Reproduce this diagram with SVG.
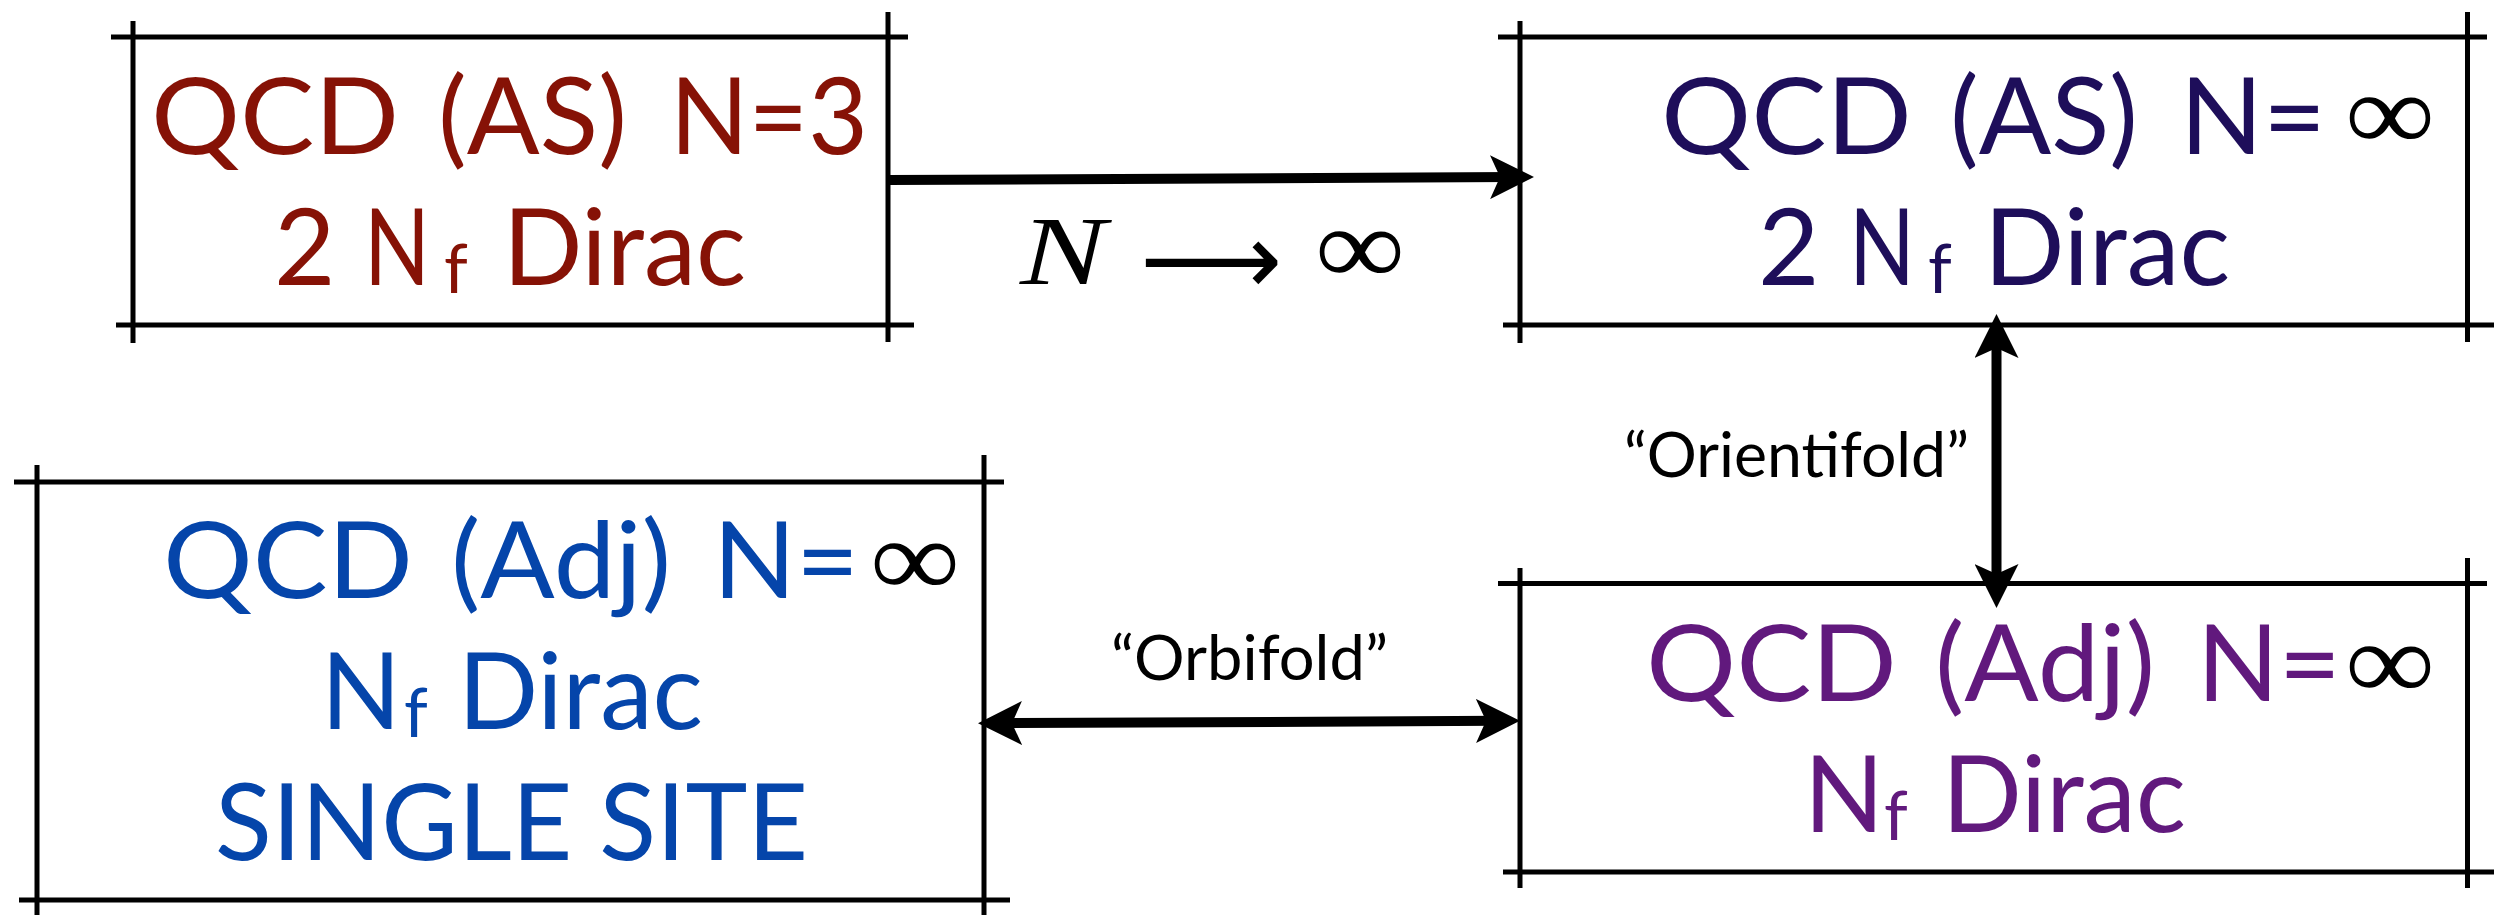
<svg xmlns="http://www.w3.org/2000/svg" width="2509" height="915" viewBox="0 0 2509 915">
<style>
.bx line{stroke:#000;stroke-width:5;fill:none}
.t{font-family:Lato,"Open Sans",sans-serif;font-size:106px}
.sub{font-size:68px}
.inf{font-family:"Liberation Serif",serif;font-size:110px;fill:#000}
.c1{fill:#861206}.c2{fill:#1E0E5A}.c3{fill:#0545AA}.c4{fill:#61197D}
.lbl{font-family:Lato,"Open Sans",sans-serif;font-size:61px;fill:#000}
.cn{stroke:#000;stroke-width:10;fill:none}
</style>
<defs>
<marker id="ah" markerUnits="userSpaceOnUse" markerWidth="44" markerHeight="44" viewBox="0 0 44 44" refX="24" refY="22" orient="auto-start-reverse">
<path d="M0,0 L44,22 L0,44 L10,22 Z" fill="#000"/>
</marker>
</defs>
<rect width="2509" height="915" fill="#fff"/>

<g id="node-qcd-as-n3" class="bx">
<line x1="111" y1="37" x2="908" y2="37"/>
<line x1="116" y1="325" x2="914" y2="325"/>
<line x1="133" y1="21" x2="133" y2="343"/>
<line x1="888" y1="12" x2="888" y2="342"/>
<text class="t c1" y="154"><tspan x="151" textLength="248" lengthAdjust="spacingAndGlyphs">QCD</tspan><tspan x="438" textLength="189" lengthAdjust="spacingAndGlyphs">(AS)</tspan><tspan x="670" textLength="198" lengthAdjust="spacingAndGlyphs">N=3</tspan></text>
<text class="t c1" y="285"><tspan x="274">2</tspan><tspan x="364" textLength="66" lengthAdjust="spacingAndGlyphs">N</tspan><tspan class="sub" x="444" dy="8">f</tspan><tspan x="503" dy="-8" textLength="243" lengthAdjust="spacingAndGlyphs">Dirac</tspan></text>
</g>

<g id="node-qcd-as-ninf" class="bx">
<line x1="1498" y1="37" x2="2487" y2="37"/>
<line x1="1503" y1="325" x2="2494" y2="325"/>
<line x1="1520" y1="21" x2="1520" y2="343"/>
<line x1="2467.5" y1="12" x2="2467.5" y2="342"/>
<text class="t c2" y="154"><tspan x="1661" textLength="251" lengthAdjust="spacingAndGlyphs">QCD</tspan><tspan x="1950" textLength="188" lengthAdjust="spacingAndGlyphs">(AS)</tspan><tspan x="2180" textLength="146" lengthAdjust="spacingAndGlyphs">N=</tspan></text>
<text class="inf" x="2345" y="150" textLength="90" lengthAdjust="spacingAndGlyphs">∞</text>
<text class="t c2" y="285"><tspan x="1758">2</tspan><tspan x="1849" textLength="66" lengthAdjust="spacingAndGlyphs">N</tspan><tspan class="sub" x="1928" dy="8">f</tspan><tspan x="1984" dy="-8" textLength="246" lengthAdjust="spacingAndGlyphs">Dirac</tspan></text>
</g>

<g id="node-qcd-adj-single-site" class="bx">
<line x1="14" y1="482" x2="1004" y2="482"/>
<line x1="19" y1="900" x2="1010" y2="900"/>
<line x1="37" y1="465" x2="37" y2="915"/>
<line x1="984" y1="455" x2="984" y2="915"/>
<text class="t c3" y="598"><tspan x="163" textLength="250" lengthAdjust="spacingAndGlyphs">QCD</tspan><tspan x="451" textLength="220" lengthAdjust="spacingAndGlyphs">(Adj)</tspan><tspan x="713" textLength="146" lengthAdjust="spacingAndGlyphs">N=</tspan></text>
<text class="inf" x="870" y="596" textLength="90" lengthAdjust="spacingAndGlyphs">∞</text>
<text class="t c3" y="729"><tspan x="321" textLength="80" lengthAdjust="spacingAndGlyphs">N</tspan><tspan class="sub" x="404" dy="8">f</tspan><tspan x="458" dy="-8" textLength="245" lengthAdjust="spacingAndGlyphs">Dirac</tspan></text>
<text class="t c3" y="860"><tspan x="215" textLength="593" lengthAdjust="spacingAndGlyphs">SINGLE SITE</tspan></text>
</g>

<g id="node-qcd-adj-ninf" class="bx">
<line x1="1498" y1="583.5" x2="2487" y2="583.5"/>
<line x1="1503" y1="872" x2="2494" y2="872"/>
<line x1="1520" y1="568" x2="1520" y2="888"/>
<line x1="2467.5" y1="558" x2="2467.5" y2="888"/>
<text class="t c4" y="701"><tspan x="1646" textLength="251" lengthAdjust="spacingAndGlyphs">QCD</tspan><tspan x="1935" textLength="220" lengthAdjust="spacingAndGlyphs">(Adj)</tspan><tspan x="2197" textLength="144" lengthAdjust="spacingAndGlyphs">N=</tspan></text>
<text class="inf" x="2345" y="699" textLength="90" lengthAdjust="spacingAndGlyphs">∞</text>
<text class="t c4" y="832"><tspan x="1804" textLength="80" lengthAdjust="spacingAndGlyphs">N</tspan><tspan class="sub" x="1884" dy="8">f</tspan><tspan x="1942" dy="-8" textLength="244" lengthAdjust="spacingAndGlyphs">Dirac</tspan></text>
</g>

<g id="connectors">
<line class="cn" x1="888" y1="180" x2="1514" y2="177" marker-end="url(#ah)"/>
<line class="cn" x1="1996.5" y1="334" x2="1996.5" y2="588" marker-start="url(#ah)" marker-end="url(#ah)"/>
<line class="cn" x1="998" y1="723.2" x2="1500" y2="720.8" marker-start="url(#ah)" marker-end="url(#ah)"/>
<text id="label-n-to-inf" y="284" fill="#000"><tspan x="1020" font-family="'Liberation Serif',serif" font-style="italic" font-size="98" textLength="86" lengthAdjust="spacingAndGlyphs">N</tspan><tspan x="1140" dy="10" font-family="'DejaVu Sans',sans-serif" font-size="100" textLength="142" lengthAdjust="spacingAndGlyphs">⟶</tspan><tspan x="1315" dy="-10" font-family="'Liberation Serif',serif" font-size="110" textLength="90" lengthAdjust="spacingAndGlyphs">∞</tspan></text>
<text id="label-orientifold" class="lbl" x="1624" y="477" textLength="345" lengthAdjust="spacingAndGlyphs">“Orientifold”</text>
<text id="label-orbifold" class="lbl" x="1111" y="680" textLength="277" lengthAdjust="spacingAndGlyphs">“Orbifold”</text>
</g>
</svg>
